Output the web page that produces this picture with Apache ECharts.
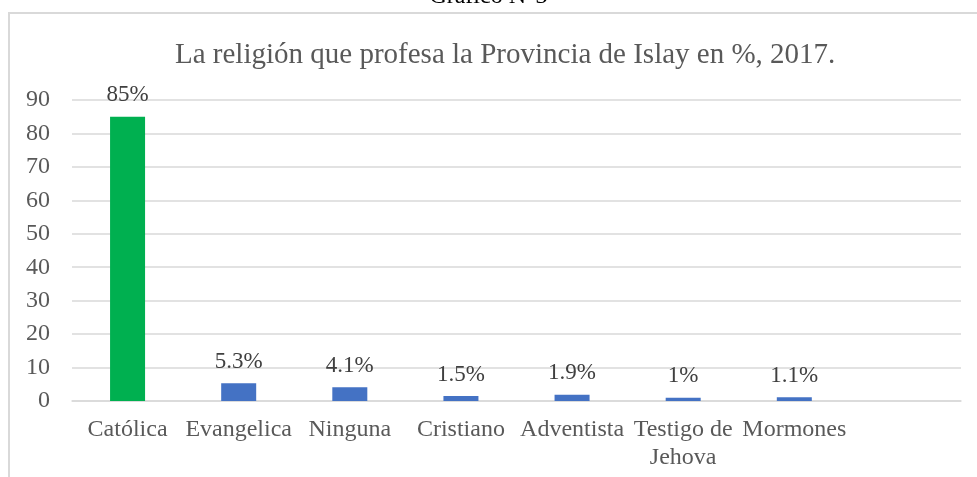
<!DOCTYPE html>
<html>
<head>
<meta charset="utf-8">
<script src="https://cdn.jsdelivr.net/npm/echarts@6/dist/echarts.min.js"></script>
<style>html,body{margin:0;padding:0;background:#fff;}#c{width:977px;height:477px;}</style>
</head>
<body>
<div id="c"></div>
<script>
const categories = ['Católica', 'Evangelica', 'Ninguna', 'Cristiano', 'Adventista', 'Testigo de\nJehova', 'Mormones', ''];
const values = [85, 5.3, 4.1, 1.5, 1.9, 1, 1.1, null];
const barColors = ['#00B050', '#4472C4', '#4472C4', '#4472C4', '#4472C4', '#4472C4', '#4472C4', '#4472C4'];
const yTicks = [0, 10, 20, 30, 40, 50, 60, 70, 80, 90];

const chart = echarts.init(document.getElementById('c'), null, {renderer: 'canvas'});
const serif = '"Liberation Serif", "DejaVu Serif", serif';
chart.setOption({
  backgroundColor: '#fff',
  animation: false,
  graphic: [
    {type: 'rect', shape: {x: 9, y: 13, width: 1100, height: 600}, style: {fill: null, stroke: '#d9d9d9', lineWidth: 2}, silent: true},
    {type: 'text', left: 'center', top: -15, style: {text: 'Gráfico N°3', font: '24px ' + serif, fill: '#000'}}
  ],
  title: {
    text: 'La religión que profesa la Provincia de Islay en %, 2017.',
    left: 170, top: 36,
    textStyle: {fontFamily: serif, fontSize: 29, fontWeight: 'normal', color: '#595959'}
  },
  grid: {left: 72, right: 16, top: 100, bottom: 76},
  xAxis: {
    type: 'category', data: categories,
    axisLine: {lineStyle: {color: '#d9d9d9', width: 1.5}},
    axisTick: {show: false},
    axisLabel: {fontFamily: serif, fontSize: 24, color: '#595959', margin: 15, interval: 0, lineHeight: 28}
  },
  yAxis: {
    type: 'value', min: 0, max: 90, interval: 10,
    axisLine: {show: false}, axisTick: {show: false},
    splitLine: {lineStyle: {color: '#d9d9d9', width: 1.5}},
    axisLabel: {fontFamily: serif, fontSize: 24, color: '#595959', margin: 22,
      formatter: v => yTicks.includes(v) ? String(v) : ''}
  },
  series: [{
    type: 'bar', barWidth: '31.5%',
    data: values.map((v, i) => ({value: v, itemStyle: {color: barColors[i]}})),
    label: {show: true, position: 'top', distance: 10, fontFamily: serif, fontSize: 23, color: '#404040',
      formatter: p => p.value == null ? '' : p.value + '%'}
  }]
});
</script>
</body>
</html>
